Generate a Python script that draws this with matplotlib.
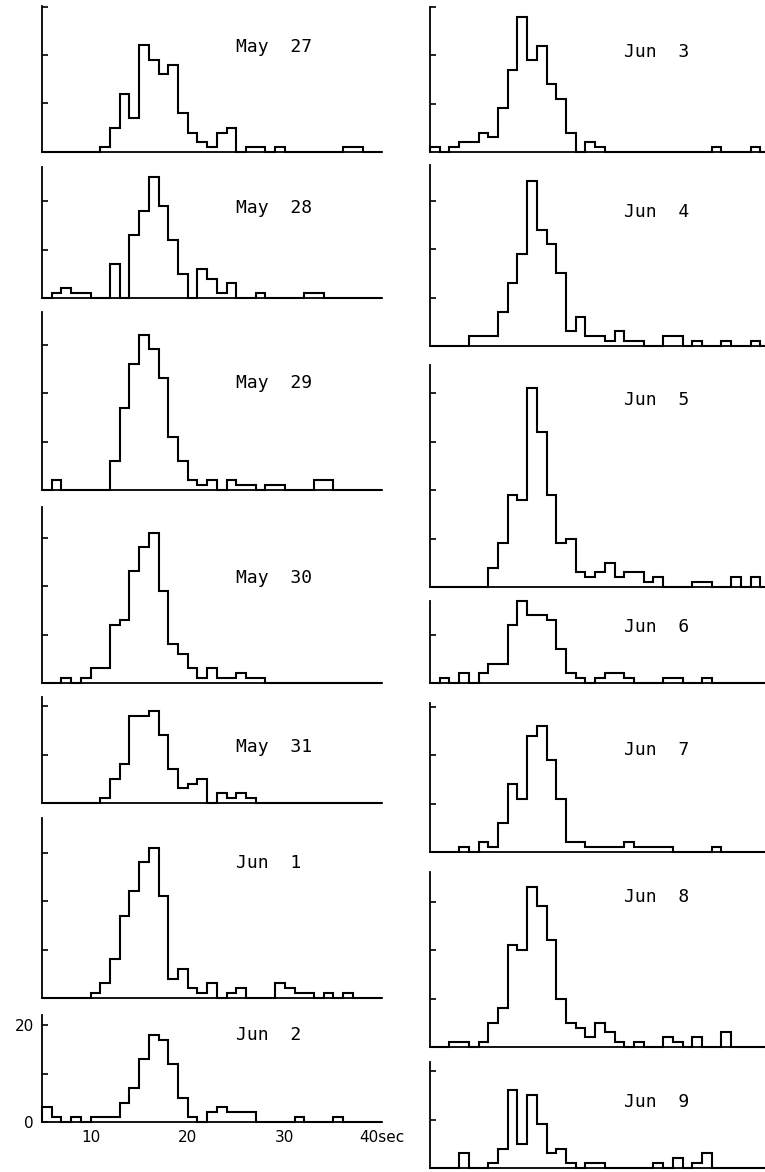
import numpy as np
import matplotlib
matplotlib.use("Agg")
import matplotlib.pyplot as plt

# ======== data: counts per 1-sec bin, bins start at 5,6,...,39 sec ========
bin_edges = np.arange(5, 41)

may27 = [0, 0, 0, 0, 0, 0, 1, 5, 12, 7, 22, 19, 16, 18, 8, 4, 2, 1, 4, 5,
         0, 1, 1, 0, 1, 0, 0, 0, 0, 0, 0, 1, 1, 0, 0]
may28 = [0, 1, 2, 1, 1, 0, 0, 7, 0, 13, 18, 25, 19, 12, 5, 0, 6, 4, 1, 3,
         0, 0, 1, 0, 0, 0, 0, 1, 1, 0, 0, 0, 0, 0, 0]
may29 = [0, 2, 0, 0, 0, 0, 0, 6, 17, 26, 32, 29, 23, 11, 6, 2, 1, 2, 0, 2,
         1, 1, 0, 1, 1, 0, 0, 0, 2, 2, 0, 0, 0, 0, 0]
may30 = [0, 0, 1, 0, 1, 3, 3, 12, 13, 23, 28, 31, 19, 8, 6, 3, 1, 3, 1, 1,
         2, 1, 1, 0, 0, 0, 0, 0, 0, 0, 0, 0, 0, 0, 0]
may31 = [0, 0, 0, 0, 0, 0, 1, 5, 8, 18, 18, 19, 14, 7, 3, 4, 5, 0, 2, 1,
         2, 1, 0, 0, 0, 0, 0, 0, 0, 0, 0, 0, 0, 0, 0]
jun1 = [0, 0, 0, 0, 0, 1, 3, 8, 17, 22, 28, 31, 21, 4, 6, 2, 1, 3, 0, 1,
        2, 0, 0, 0, 3, 2, 1, 1, 0, 1, 0, 1, 0, 0, 0]
jun2 = [3, 1, 0, 1, 0, 1, 1, 1, 4, 7, 13, 18, 17, 12, 5, 1, 0, 2, 3, 2,
        2, 2, 0, 0, 0, 0, 1, 0, 0, 0, 1, 0, 0, 0, 0]
jun3 = [1, 0, 1, 2, 2, 4, 3, 9, 17, 28, 19, 22, 14, 11, 4, 0, 2, 1, 0, 0,
        0, 0, 0, 0, 0, 0, 0, 0, 0, 1, 0, 0, 0, 1, 0]
jun4 = [0, 0, 0, 0, 2, 2, 2, 7, 13, 19, 34, 24, 21, 15, 3, 6, 2, 2, 1, 3,
        1, 1, 0, 0, 2, 2, 0, 1, 0, 0, 1, 0, 0, 1, 0]
jun5 = [0, 0, 0, 0, 0, 0, 4, 9, 19, 18, 41, 32, 19, 9, 10, 3, 2, 3, 5, 2,
        3, 3, 1, 2, 0, 0, 0, 1, 1, 0, 0, 2, 0, 2, 0]
jun6 = [0, 1, 0, 2, 0, 2, 4, 4, 12, 17, 14, 14, 13, 7, 2, 1, 0, 1, 2, 2,
        1, 0, 0, 0, 1, 1, 0, 0, 1, 0, 0, 0, 0, 0, 0]
jun7 = [0, 0, 0, 1, 0, 2, 1, 6, 14, 11, 24, 26, 19, 11, 2, 2, 1, 1, 1, 1,
        2, 1, 1, 1, 1, 0, 0, 0, 0, 1, 0, 0, 0, 0, 0]
jun8 = [0, 0, 1, 1, 0, 1, 5, 8, 21, 20, 33, 29, 22, 10, 5, 4, 2, 5, 3, 1,
        0, 1, 0, 0, 2, 1, 0, 2, 0, 0, 3, 0, 0, 0, 0]
jun9 = [0, 0, 0, 3, 0, 0, 1, 4, 16, 5, 15, 9, 3, 4, 1, 0, 1, 1, 0, 0,
        0, 0, 0, 1, 0, 2, 0, 1, 3, 0, 0, 0, 0, 0, 0]

left_names = ["May  27", "May  28", "May  29", "May  30", "May  31", "Jun  1", "Jun  2"]
right_names = ["Jun  3", "Jun  4", "Jun  5", "Jun  6", "Jun  7", "Jun  8", "Jun  9"]
left_data = [may27, may28, may29, may30, may31, jun1, jun2]
right_data = [jun3, jun4, jun5, jun6, jun7, jun8, jun9]

# ======== layout (pixels of the 765x1172 picture) ========
W, H = 765, 1172
px_per_sec = 340 / 35
px_per_count = 4.85
# (axis top, baseline) of every panel
left_rows = [(6, 152), (167, 298), (312, 490), (507, 683), (697, 803), (818, 998), (1015, 1122)]
right_rows = [(7, 152), (165, 346), (365, 587), (601, 683), (703, 852), (872, 1047), (1062, 1168)]
left_label_y = [21.6, 18.5, 22, 21.6, 11.5, 27.8, 18]
right_label_y = [20.6, 27.6, 38.5, 11.6, 21, 31, 13.7]

fig = plt.figure(figsize=(W / 100, H / 100), dpi=100)


def panel(x0, width_px, top, base, counts, name, label_y):
    ax = fig.add_axes([x0 / W, 1 - base / H, width_px / W, (base - top) / H])
    ax.stairs(counts, bin_edges, color="black", lw=1.5, clip_on=False)
    ax.set_xlim(5, 5 + width_px / px_per_sec)
    ax.set_ylim(0, (base - top) / px_per_count)
    for s in ("top", "right"):
        ax.spines[s].set_visible(False)
    for s in ("left", "bottom"):
        ax.spines[s].set_linewidth(1.3)
    ax.set_yticks(np.arange(10, ax.get_ylim()[1] + 0.5, 10))
    ax.set_yticklabels([])
    ax.tick_params(axis="y", direction="in", length=4, width=1.2)
    ax.set_xticks([])
    ax.text(25, label_y, name, family="DejaVu Sans Mono", fontsize=13, va="center")
    ax.patch.set_alpha(0)
    return ax


for (top, base), counts, name, ly in zip(left_rows, left_data, left_names, left_label_y):
    ax = panel(42, 340, top, base, counts, name, ly)

# bottom-left panel carries the scales
ax.set_yticks([0, 10, 20])
ax.set_yticklabels(["0", "", "20"], fontsize=11)
ax.tick_params(axis="y", direction="in", length=4, pad=6)
ax.set_xticks([10, 20, 30, 40])
ax.set_xticklabels(["10", "20", "30", "40sec"], fontsize=11)
ax.tick_params(axis="x", length=0, pad=6)

for (top, base), counts, name, ly in zip(right_rows, right_data, right_names, right_label_y):
    panel(430, W - 430, top, base, counts, name, ly)

fig.savefig("out.png", dpi=100)
